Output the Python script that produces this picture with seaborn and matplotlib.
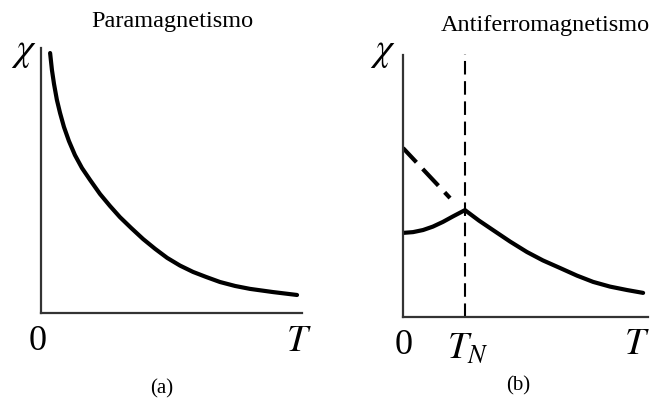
import matplotlib
matplotlib.use("Agg")
import matplotlib.pyplot as plt
import seaborn as sns

sns.set_theme(style="white")
plt.rcParams["font.family"] = ["Liberation Serif", "DejaVu Serif"]
plt.rcParams["mathtext.fontset"] = "stix"

# (a) paramagnet: susceptibility falling with temperature
para_T = [0.36, 0.43, 0.51, 0.62, 0.74, 0.89, 1.08, 1.31, 1.58, 1.89, 2.27, 2.65, 3.03,
          3.46, 3.92, 4.38, 4.84, 5.33, 5.83, 6.33, 6.86, 7.44, 8.01, 8.89, 9.81]
para_chi = [9.81, 9.17, 8.64, 8.04, 7.55, 7.02, 6.49, 5.96, 5.47, 5.02, 4.49, 4.04, 3.62,
            3.21, 2.79, 2.42, 2.08, 1.79, 1.55, 1.36, 1.17, 1.02, 0.91, 0.79, 0.68]

# (b) antiferromagnet: cusp at the Neel temperature
T_N = 2.53
afm_T = [0.0, 0.41, 0.82, 1.22, 1.63, 2.04, 2.53, 3.10, 3.67, 4.37, 5.06, 5.71,
         6.41, 7.10, 7.76, 8.45, 9.14, 9.80]
afm_chi = [3.21, 3.24, 3.32, 3.45, 3.63, 3.84, 4.08, 3.68, 3.32, 2.88, 2.48, 2.16,
           1.87, 1.58, 1.34, 1.16, 1.03, 0.92]
afm_dash_T = [0.0, 1.92]
afm_dash_chi = [6.45, 4.54]

panel_titles = ["Paramagnetismo", "Antiferromagnetismo"]
panel_tags = ["(a)", "(b)"]

W, H = 659, 400
fig = plt.figure(figsize=(W / 100, H / 100), dpi=100)

def px_axes(x0, y0, x1, y1):
    return fig.add_axes([x0 / W, 1 - y1 / H, (x1 - x0) / W, (y1 - y0) / H])

def style(ax):
    ax.set_xlim(0, 10)
    ax.set_ylim(0, 10)
    for s in ["top", "right"]:
        ax.spines[s].set_visible(False)
    for s in ["left", "bottom"]:
        ax.spines[s].set_color("#333333")
        ax.spines[s].set_linewidth(1.6)
    ax.set_xticks([])
    ax.set_yticks([])
    ax.set_xlabel("")
    ax.set_ylabel("")
    ax.patch.set_alpha(0)

def ftext(x, y, s, **kw):
    fig.text(x / W, 1 - y / H, s, ha="center", va="center", color="black", **kw)

ax1 = px_axes(40.7, 48, 302, 313)
sns.lineplot(x=para_T, y=para_chi, ax=ax1, color="black", linewidth=3.0, sort=False)
style(ax1)

ax2 = px_axes(403, 55, 648, 317)
ax2.plot([T_N, T_N], [0, 10.04], color="black", linewidth=1.5,
         linestyle=(0, (6.5, 3.2)), clip_on=False)
sns.lineplot(x=afm_T, y=afm_chi, ax=ax2, color="black", linewidth=3.0, sort=False)
ax2.plot(afm_dash_T, afm_dash_chi, color="black", linewidth=3.0,
         linestyle=(0.8, (5.5, 2.2)), solid_capstyle="butt")
style(ax2)

ftext(172, 21, panel_titles[0], fontsize=17.5)
ftext(545, 25, panel_titles[1], fontsize=17.5)

ftext(24, 52, r"$\chi$", fontsize=28)
ftext(383, 52, r"$\chi$", fontsize=28)

ftext(38, 342, "0", fontsize=26)
ftext(299, 342, r"$T$", fontsize=27)
ftext(404, 345, "0", fontsize=26)
ftext(468, 349, r"$T_N$", fontsize=27)
ftext(637, 345, r"$T$", fontsize=27)

ftext(162, 389, panel_tags[0], fontsize=15)
ftext(518, 386, panel_tags[1], fontsize=15)

fig.savefig("out.png", dpi=100, facecolor="white")
